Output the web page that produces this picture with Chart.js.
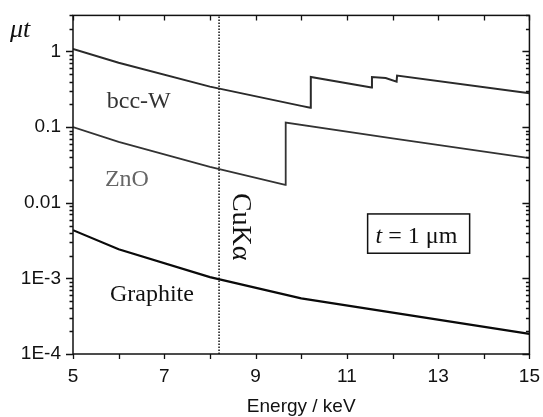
<!DOCTYPE html>
<html>
<head>
<meta charset="utf-8">
<script src="https://cdn.jsdelivr.net/npm/chart.js@4.4.0/dist/chart.umd.min.js"></script>
<style>
  html, body { margin: 0; padding: 0; background: #fff; }
</style>
</head>
<body>
<canvas id="chart" width="543" height="417"></canvas>
<script>
// ---- data (mu*t vs photon energy, t = 1 um) ----
const wEnergy = [5, 6, 8, 10, 10.2, 10.21, 11.54, 11.55, 11.85, 12.09, 12.1, 15];
const wMu     = [1.08, 0.71, 0.343, 0.191, 0.181, 0.46, 0.334, 0.46, 0.447, 0.40, 0.48, 0.281];

const znoEnergy = [5, 6, 8, 9.65, 9.66, 12, 15];
const znoMu     = [0.1, 0.064, 0.0297, 0.0172, 0.115, 0.071, 0.0388];

const grEnergy = [5, 6, 8, 10, 15];
const grMu     = [0.00434, 0.00243, 0.00104, 0.000545, 0.000185];

const cuKaEnergy = 8.2;

const yDecades = [1e-4, 1e-3, 0.01, 0.1, 1];
const yDecadeLabels = ["1E-4", "1E-3", "0.01", "0.1", "1"];
const xLabelled = [5, 7, 9, 11, 13, 15];

const SERIF = '"Liberation Serif", "Times New Roman", serif';
const SANS = '"Liberation Sans", Arial, sans-serif';

const pts = (xs, ys) => xs.map((x, i) => ({ x, y: ys[i] }));

function isDecade(v) {
  const e = Math.log10(v);
  return Math.abs(e - Math.round(e)) < 1e-6;
}

// ---- frame, ticks and labels drawn on top ----
const decorPlugin = {
  id: "decor",
  afterDraw(chart) {
    const { ctx, chartArea: a, scales } = chart;
    const sx = scales.x, sy = scales.y;
    ctx.save();
    ctx.strokeStyle = "#111";
    ctx.lineWidth = 1.5;
    ctx.strokeRect(a.left, a.top, a.right - a.left, a.bottom - a.top);

    // x ticks: bottom outward, top inward
    ctx.lineWidth = 1.3;
    sx.ticks.forEach(t => {
      const px = Math.round(sx.getPixelForValue(t.value)) + 0.5;
      ctx.beginPath();
      ctx.moveTo(px, a.bottom); ctx.lineTo(px, a.bottom + 5);
      ctx.moveTo(px, a.top); ctx.lineTo(px, a.top + 5);
      ctx.stroke();
    });
    // y ticks: pointing left on both sides
    sy.ticks.forEach(t => {
      const py = Math.round(sy.getPixelForValue(t.value)) + 0.5;
      const len = isDecade(t.value) ? 7 : 3.5;
      ctx.beginPath();
      ctx.moveTo(a.left - len, py); ctx.lineTo(a.left, py);
      ctx.moveTo(a.right - len, py); ctx.lineTo(a.right, py);
      ctx.stroke();
    });

    // axis titles
    ctx.fillStyle = "#111";
    ctx.font = "19px " + SANS;
    ctx.textAlign = "center";
    ctx.textBaseline = "alphabetic";
    ctx.fillText("Energy / keV", (a.left + a.right) / 2, 412);

    ctx.textAlign = "left";
    ctx.font = "italic 26px " + SERIF;
    ctx.fillText("\u03bct", 10, 37);

    // curve labels
    ctx.font = "24px " + SERIF;
    ctx.fillStyle = "#333";
    ctx.fillText("bcc-W", sx.getPixelForValue(5.74), sy.getPixelForValue(0.179));
    ctx.fillStyle = "#666";
    ctx.fillText("ZnO", sx.getPixelForValue(5.70), sy.getPixelForValue(0.0169));
    ctx.fillStyle = "#111";
    ctx.fillText("Graphite", sx.getPixelForValue(5.81), sy.getPixelForValue(0.000507));

    // CuKa, rotated along the dotted line
    ctx.save();
    ctx.translate(sx.getPixelForValue(8.5), sy.getPixelForValue(0.0135));
    ctx.rotate(Math.PI / 2);
    ctx.font = "28px " + SERIF;
    ctx.fillStyle = "#111";
    ctx.fillText("CuK\u03b1", 0, 0);
    ctx.restore();

    // thickness box
    const bx0 = sx.getPixelForValue(11.455), bx1 = sx.getPixelForValue(13.69);
    const by0 = sy.getPixelForValue(0.00711), by1 = sy.getPixelForValue(0.00215);
    ctx.lineWidth = 1.5;
    ctx.strokeRect(bx0, by0, bx1 - bx0, by1 - by0);
    let tx = sx.getPixelForValue(11.63);
    const ty = sy.getPixelForValue(0.00292);
    ctx.font = "italic 24px " + SERIF;
    ctx.fillText("t", tx, ty);
    tx += ctx.measureText("t").width;
    ctx.font = "24px " + SERIF;
    ctx.fillText(" = 1 \u03bcm", tx, ty);
    ctx.restore();
  }
};

const ctx = document.getElementById("chart").getContext("2d");

new Chart(ctx, {
  type: "line",
  data: {
    datasets: [
      { data: pts(wEnergy, wMu), borderColor: "#2a2a2a", borderWidth: 2 },
      { data: pts(znoEnergy, znoMu), borderColor: "#333", borderWidth: 1.8 },
      { data: pts(grEnergy, grMu), borderColor: "#0a0a0a", borderWidth: 2.2 },
      {
        data: [{ x: cuKaEnergy, y: 1e-4 }, { x: cuKaEnergy, y: 3 }],
        borderColor: "#111", borderWidth: 1.5, borderDash: [1.5, 1.5]
      }
    ]
  },
  options: {
    responsive: false,
    animation: false,
    devicePixelRatio: 1,
    layout: { padding: { top: 14, right: 11, left: 0, bottom: 0 } },
    elements: { point: { radius: 0 }, line: { tension: 0 } },
    plugins: { legend: { display: false }, tooltip: { enabled: false } },
    scales: {
      x: {
        type: "linear",
        min: 5, max: 15,
        grid: { display: false },
        border: { display: false },
        ticks: {
          stepSize: 1,
          autoSkip: false,
          maxRotation: 0,
          padding: 3,
          color: "#111",
          font: { family: SANS, size: 19 },
          callback: v => xLabelled.includes(v) ? String(v) : ""
        },
        afterFit: s => { s.height = 63; }
      },
      y: {
        type: "logarithmic",
        min: 1e-4, max: 3,
        grid: { display: false },
        border: { display: false },
        afterBuildTicks: s => {
          s.ticks = s.ticks.filter(t => {
            const m = t.value / Math.pow(10, Math.floor(Math.log10(t.value) + 1e-9));
            return Math.abs(m - Math.round(m)) < 1e-6;
          });
        },
        ticks: {
          autoSkip: false,
          padding: 4,
          color: "#111",
          font: { family: SANS, size: 19 },
          callback: v => {
            const i = yDecades.findIndex(d => Math.abs(d - v) / d < 1e-6);
            return i >= 0 ? yDecadeLabels[i] : "";
          }
        },
        afterFit: s => { s.width = 73; }
      }
    }
  },
  plugins: [decorPlugin]
});
</script>
</body>
</html>
